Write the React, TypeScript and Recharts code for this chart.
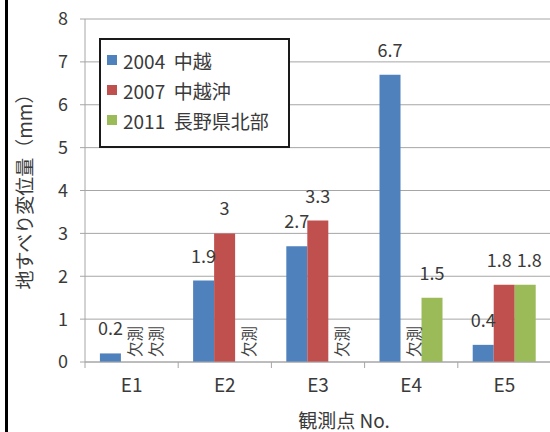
import { Bar, BarChart, CartesianGrid, LabelList, Legend, XAxis, YAxis } from 'recharts'

const categories = ['E1', 'E2', 'E3', 'E4', 'E5']
const chuetsu2004: (number | null)[] = [0.2, 1.9, 2.7, 6.7, 0.4]
const chuetsuOki2007: (number | null)[] = [null, 3, 3.3, null, 1.8]
const naganoNorth2011: (number | null)[] = [null, null, null, 1.5, 1.8]
const seriesNames = ['2004 中越', '2007 中越沖', '2011 長野県北部']
const seriesColors = ['#4F81BD', '#C0504D', '#9BBB59']
const yTicks = [0, 1, 2, 3, 4, 5, 6, 7, 8]
const MISSING = '欠測'

const seriesValues = [chuetsu2004, chuetsuOki2007, naganoNorth2011]
const seriesKeys = ['s2004', 's2007', 's2011'] as const

const data = categories.map((name, i) => ({
  name,
  s2004: chuetsu2004[i],
  s2007: chuetsuOki2007[i],
  s2011: naganoNorth2011[i],
}))

const FONT = '"Noto Sans CJK JP", "Noto Sans", sans-serif'
const TEXT = '#3a3a3a'
const AXIS = '#a6a6a6'

const CHART_W = 560
const MARGIN = { top: 19, right: 9, bottom: 0, left: 30 }
const Y_AXIS_W = 55
const PLOT_LEFT = MARGIN.left + Y_AXIS_W
const GAP = 0.16
const BAND = (CHART_W - MARGIN.left - MARGIN.right - Y_AXIS_W) / categories.length
const BAR_W = (BAND * (1 - 2 * GAP)) / seriesValues.length

// two neighbouring labels at about the same height are pushed apart
function labelNudge(s: number, i: number) {
  const v = seriesValues[s][i]
  const near = (o: number) => {
    const w = seriesValues[o]?.[i]
    return v != null && w != null && Math.abs(v - w) < 0.5
  }
  if (near(s + 1)) return -5
  if (near(s - 1)) return 4
  return 0
}

function makeLabel(s: number) {
  return (props: any) => {
    const { x, y, width, value } = props
    if (value == null) return null
    const mid = Number(x) + Number(width) / 2
    const cat = Math.floor((mid - PLOT_LEFT) / BAND)
    return (
      <text
        x={mid + labelNudge(s, cat)}
        y={Number(y) - 18}
        textAnchor="middle"
        fontSize={18}
        fontFamily={FONT}
        fill={TEXT}
      >
        {value}
      </text>
    )
  }
}

// category label, boundary tick marks, and rotated "欠測" notes in the empty bar slots
function CategoryTick(props: any) {
  const { x, y, payload, index } = props
  const right = x + BAND / 2
  return (
    <g>
      {index === 0 && <line x1={x - BAND / 2} y1={y} x2={x - BAND / 2} y2={y + 6} stroke={AXIS} />}
      <line x1={right} y1={y} x2={right} y2={y + 6} stroke={AXIS} />
      <text x={x} y={y + 30} textAnchor="middle" fontSize={19} fontFamily={FONT} fill={TEXT}>
        {payload.value}
      </text>
      {seriesValues.map((vals, s) =>
        vals[index] == null ? (
          <text
            key={s}
            transform={`translate(${x + (s - 1) * BAR_W + 2},${y - 5}) rotate(-90)`}
            textAnchor="start"
            dominantBaseline="central"
            fontSize={15.5}
            fontFamily={FONT}
            fill="#444"
          >
            {MISSING}
          </text>
        ) : null,
      )}
    </g>
  )
}

function LegendBox() {
  return (
    <div
      style={{
        width: 181,
        height: 101,
        border: '2px solid #1a1a1a',
        background: '#fff',
        boxSizing: 'content-box',
        padding: '5px 0 0 6px',
        fontFamily: FONT,
        fontSize: 19,
        color: TEXT,
      }}
    >
      {seriesNames.map((n, i) => (
        <div key={n} style={{ display: 'flex', alignItems: 'center', height: 30 }}>
          <span style={{ width: 10, height: 10, background: seriesColors[i], marginRight: 6 }} />
          <span style={{ whiteSpace: 'pre' }}>{n.replace(' ', '  ')}</span>
        </div>
      ))}
    </div>
  )
}

export default function App() {
  return (
    <div
      style={{
        position: 'fixed',
        left: 0,
        top: 0,
        width: 550,
        height: 432,
        overflow: 'hidden',
        background: '#fff',
      }}
    >
      <div style={{ position: 'absolute', left: 5, top: 0, width: 3, height: 432, background: '#000' }} />
      <BarChart width={CHART_W} height={432} data={data} margin={MARGIN} barCategoryGap={`${GAP * 100}%`} barGap={0}>
        <CartesianGrid vertical={false} stroke={AXIS} />
        <XAxis
          dataKey="name"
          axisLine={{ stroke: AXIS }}
          tickLine={false}
          tickSize={0}
          tickMargin={0}
          height={70}
          tick={<CategoryTick />}
          interval={0}
          label={{
            content: (p: any) => {
              const vb = p.viewBox
              return (
                <text
                  x={vb.x + vb.width / 2 + 26}
                  y={428}
                  textAnchor="middle"
                  fontSize={19}
                  fontFamily={FONT}
                  fill={TEXT}
                >
                  観測点 No.
                </text>
              )
            },
          }}
        />
        <YAxis
          width={Y_AXIS_W}
          domain={[0, 8]}
          ticks={yTicks}
          interval={0}
          axisLine={{ stroke: AXIS }}
          tickLine={{ stroke: AXIS }}
          tickSize={5}
          tickMargin={12}
          tick={{ fontSize: 18, fontFamily: FONT, fill: TEXT }}
          label={{
            content: (p: any) => {
              const vb = p.viewBox
              return (
                <text
                  transform={`translate(${vb.x - 7},187) rotate(-90)`}
                  textAnchor="middle"
                  dominantBaseline="central"
                  fontSize={19}
                  fontFamily={FONT}
                  fill={TEXT}
                >
                  地すべり変位量（mm）
                </text>
              )
            },
          }}
        />
        <Legend
          layout="vertical"
          align="center"
          verticalAlign="middle"
          content={() => <LegendBox />}
          wrapperStyle={{ left: 99, top: 38, width: 'auto' }}
        />
        {seriesKeys.map((key, i) => (
          <Bar key={key} dataKey={key} name={seriesNames[i]} fill={seriesColors[i]} isAnimationActive={false}>
            <LabelList dataKey={key} content={makeLabel(i)} />
          </Bar>
        ))}
      </BarChart>
    </div>
  )
}
